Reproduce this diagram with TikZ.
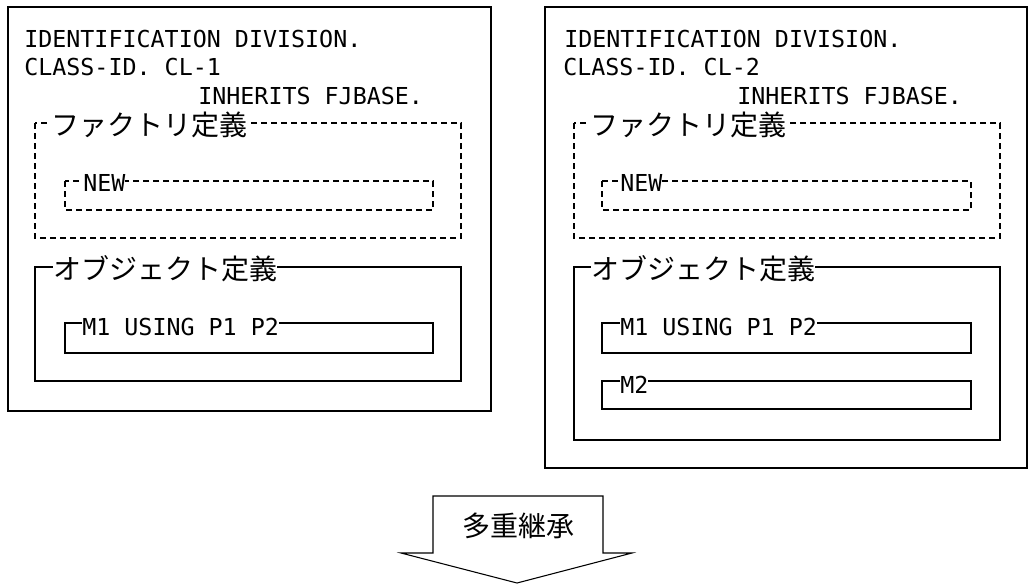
\documentclass[tikz,border=0pt]{standalone}
\usepackage{fontspec}
\setmonofont{DejaVu Sans Mono}
\newfontfamily\jpfont{Noto Sans CJK JP}
\begin{document}
\begin{tikzpicture}[x=0.75pt,y=-0.75pt,
  boxline/.style={draw=black,line width=0.8pt},
  dashline/.style={draw=black,line width=0.8pt,dash pattern=on 4.5pt off 3pt},
  code/.style={anchor=base west,inner sep=0pt,font=\ttfamily\fontsize{17.5pt}{21pt}\selectfont},
  codelbl/.style={code,fill=white},
  jplbl/.style={anchor=west,inner sep=0pt,fill=white,font=\jpfont\fontsize{21pt}{25pt}\selectfont}]
\useasboundingbox (0,0) rectangle (1028,583);
% ---------- left class ----------
\draw[boxline] (8,7) rectangle (491,411);
\node[code] (l1) at (24,47) {IDENTIFICATION DIVISION.};
\node[code] (l2) at (24,75) {CLASS-ID. CL-1};
\node[code] (l3) at (198,104) {INHERITS FJBASE.};
\draw[dashline] (35,123) rectangle (461,238);
\node[jplbl] (lf) at (51,125) {ファクトリ定義};
\draw[dashline] (65,181) rectangle (433,210);
\node[codelbl] (ln) at (83,191) {NEW\hspace{10pt}};
\draw[boxline] (35,267) rectangle (461,381);
\node[jplbl] (lo) at (53,269) {オブジェクト定義};
\draw[boxline] (65,323) rectangle (433,353);
\node[codelbl] (lm1) at (82,335) {M1 USING P1 P2};
% ---------- right class ----------
\draw[boxline] (545,7) rectangle (1027,468);
\node[code] (r1) at (564,47) {IDENTIFICATION DIVISION.};
\node[code] (r2) at (563,75) {CLASS-ID. CL-2};
\node[code] (r3) at (737,104) {INHERITS FJBASE.};
\draw[dashline] (574,123) rectangle (1000,238);
\node[jplbl] (rf) at (590,125) {ファクトリ定義};
\draw[dashline] (602,181) rectangle (971,210);
\node[codelbl] (rn) at (620,191) {NEW\hspace{10pt}};
\draw[boxline] (574,267) rectangle (1000,440);
\node[jplbl] (ro) at (591,269) {オブジェクト定義};
\draw[boxline] (602,323) rectangle (971,353);
\node[codelbl] (rm1) at (620,335) {M1 USING P1 P2};
\draw[boxline] (602,381) rectangle (971,409);
\node[codelbl] (rm2) at (620,393) {M2};
% ---------- arrow ----------
\draw[boxline,line join=miter] (433,553) -- (433,496) -- (603,496) -- (603,553) -- (632,553) -- (517,583) -- (401,553) -- cycle;
\node[font=\jpfont\fontsize{21pt}{25pt}\selectfont,inner sep=0pt] (inh) at (518,526) {多重継承};
\end{tikzpicture}
\end{document}
